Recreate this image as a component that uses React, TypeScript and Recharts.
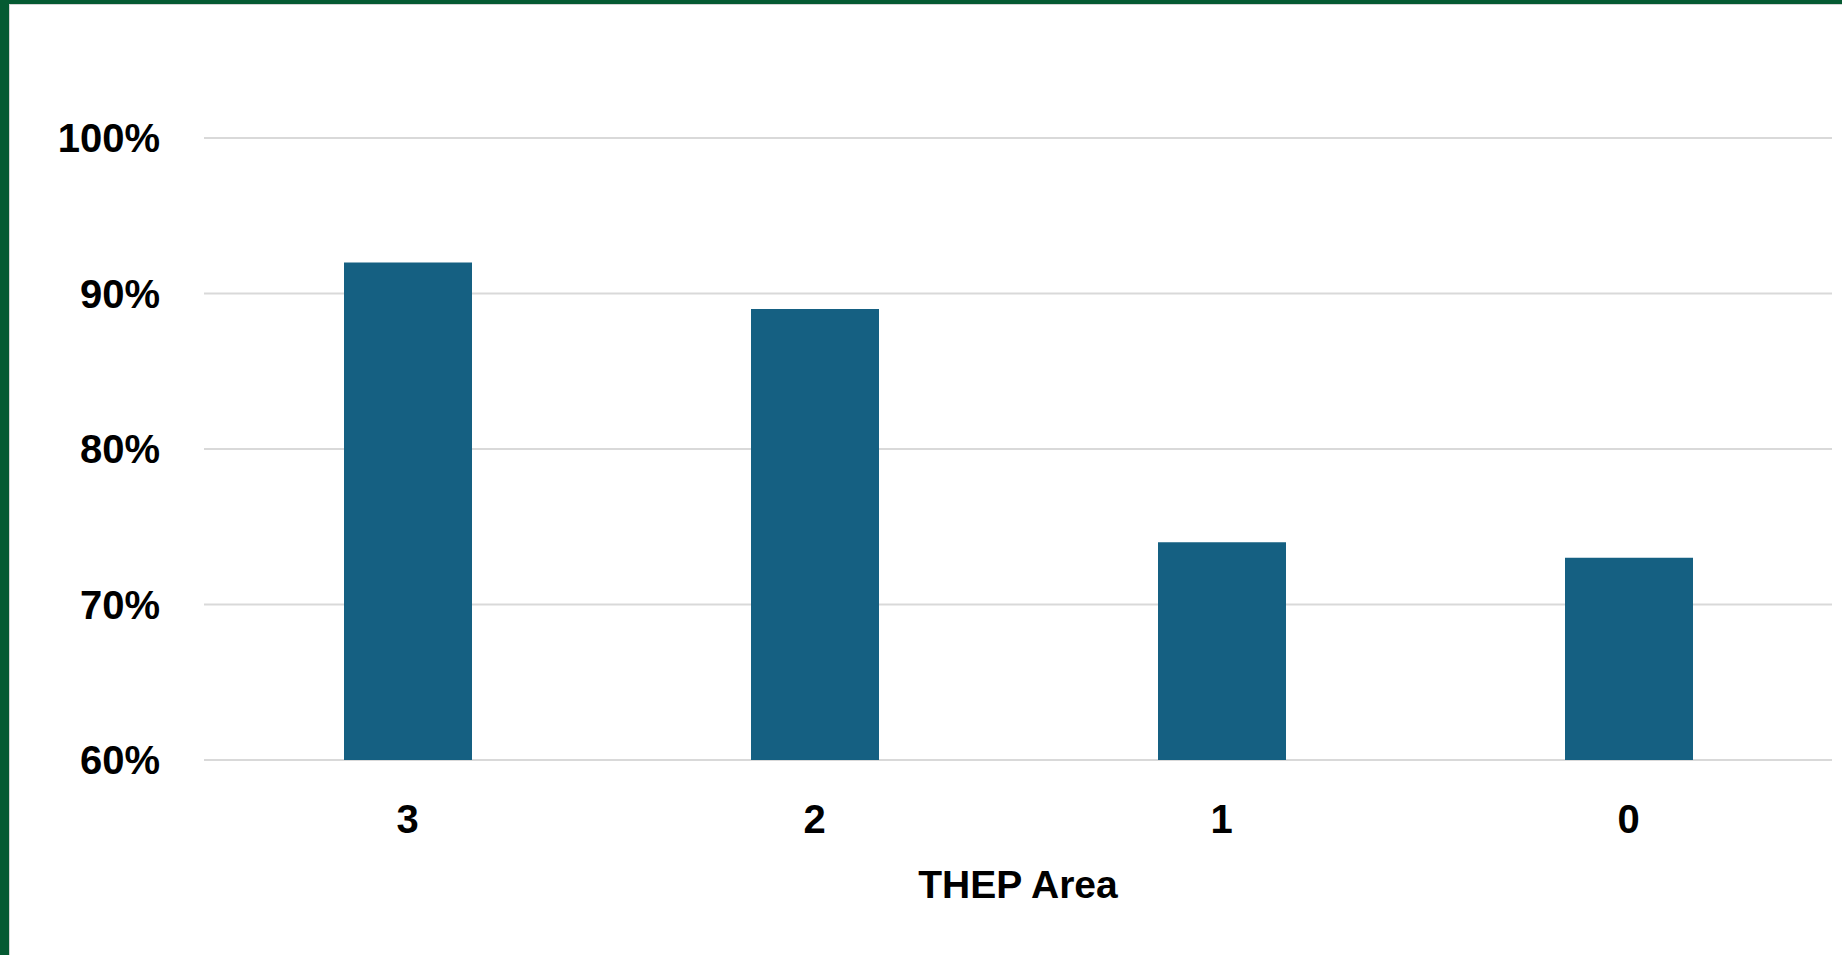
import React from 'react';
import { BarChart, Bar, XAxis, YAxis, CartesianGrid, Label } from 'recharts';

const areas = ['3', '2', '1', '0'];
const shares = [0.92, 0.89, 0.74, 0.73];
const yTicks = [0.6, 0.7, 0.8, 0.9, 1.0];

const data = areas.map((area, i) => ({ area, share: shares[i] }));

const FONT = '"Liberation Sans", Arial, sans-serif';
const tickStyle = { fontSize: 40, fontWeight: 700, fill: '#000000', fontFamily: FONT };

const App: React.FC = () => {
    return (
        <div style={{ position: 'relative', width: 1842, height: 955, background: '#055a32', overflow: 'hidden' }}>
            <style>{'body{margin:0;}'}</style>
            <div
                style={{
                    position: 'absolute', left: 9, top: 4, right: 0, bottom: 0,
                    background: '#ffffff', borderLeft: '1px solid #d4d4d4', borderTop: '1px solid #d4d4d4',
                }}
            />
            <div style={{ position: 'absolute', left: 0, top: 0 }}>
                <BarChart width={1842} height={955} data={data} margin={{ top: 138, right: 10, bottom: 0, left: 54 }}>
                    <CartesianGrid vertical={false} stroke="#d9d9d9" strokeWidth={2} />
                    <XAxis
                        dataKey="area"
                        axisLine={false}
                        tickLine={false}
                        tickSize={0}
                        tickMargin={45}
                        height={195}
                        tick={tickStyle}
                    >
                        <Label
                            value="THEP Area"
                            position="insideBottom"
                            offset={57}
                            style={{ fontSize: 39, fontWeight: 700, fill: '#000000', fontFamily: FONT }}
                        />
                    </XAxis>
                    <YAxis
                        type="number"
                        domain={[0.6, 1.0]}
                        ticks={yTicks}
                        axisLine={false}
                        tickLine={false}
                        tickSize={0}
                        tickMargin={44}
                        width={150}
                        tick={tickStyle}
                        tickFormatter={(v: number) => `${Math.round(v * 100)}%`}
                    />
                    <Bar dataKey="share" fill="#156082" barSize={128} isAnimationActive={false} />
                </BarChart>
            </div>
        </div>
    );
};

export default App;
